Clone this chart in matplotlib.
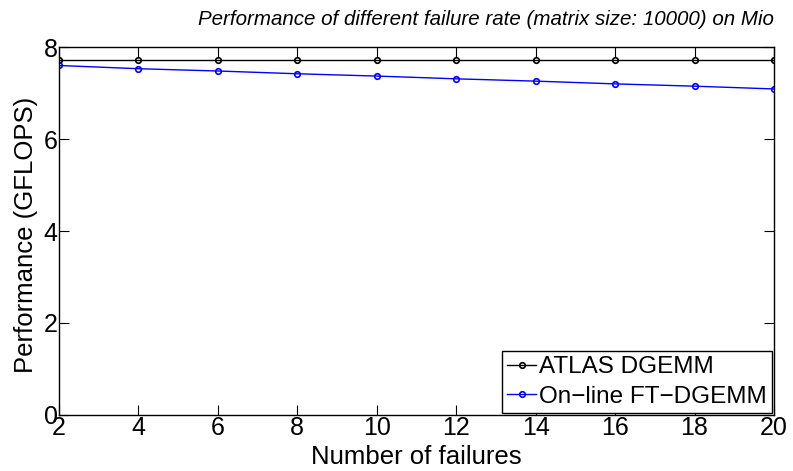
import matplotlib
matplotlib.use("Agg")
import matplotlib.pyplot as plt

failures = [2, 4, 6, 8, 10, 12, 14, 16, 18, 20]
atlas = [7.72, 7.72, 7.72, 7.72, 7.72, 7.72, 7.72, 7.72, 7.72, 7.72]
online = [7.60, 7.53, 7.48, 7.42, 7.37, 7.31, 7.26, 7.20, 7.15, 7.09]
xticks = [2, 4, 6, 8, 10, 12, 14, 16, 18, 20]
yticks = [0, 2, 4, 6, 8]

plt.rcParams['font.family'] = ['Liberation Sans', 'DejaVu Sans']

fig = plt.figure(figsize=(7.93, 4.71), dpi=100)
ax = fig.add_axes([0.0744, 0.119, 0.9016, 0.781])

ax.plot(failures, atlas, color='black', lw=1.0, marker='o', ms=4,
        mfc='none', mew=1.2, label='ATLAS DGEMM')
ax.plot(failures, online, color='blue', lw=1.0, marker='o', ms=4,
        mfc='none', mew=1.2, label='On\u2212line FT\u2212DGEMM')

ax.set_xlim(2, 20)
ax.set_ylim(0, 8)
ax.set_xticks(xticks)
ax.set_yticks(yticks)
ax.tick_params(direction='in', top=True, right=True, labelsize=18, length=7, width=0.8, pad=1)
for s in ax.spines.values():
    s.set_linewidth(1.0)

ax.set_xlabel('Number of failures', fontsize=18.5)
ax.xaxis.set_label_coords(0.5, -0.082)
ax.set_ylabel('Performance (GFLOPS)', fontsize=18.5)
ax.yaxis.set_label_coords(-0.029, 0.49)
ax.set_title('Performance of different failure rate (matrix size: 10000) on Mio',
             fontsize=14.8, style='italic', pad=16, loc='right')

leg = ax.legend(loc='lower right', fontsize=17.5, fancybox=False, edgecolor='black',
                framealpha=1, borderpad=0.2, labelspacing=0.3, handlelength=1.2,
                handletextpad=0.1, borderaxespad=0.1)
leg.get_frame().set_linewidth(1.0)

fig.savefig('out.png', dpi=100)
